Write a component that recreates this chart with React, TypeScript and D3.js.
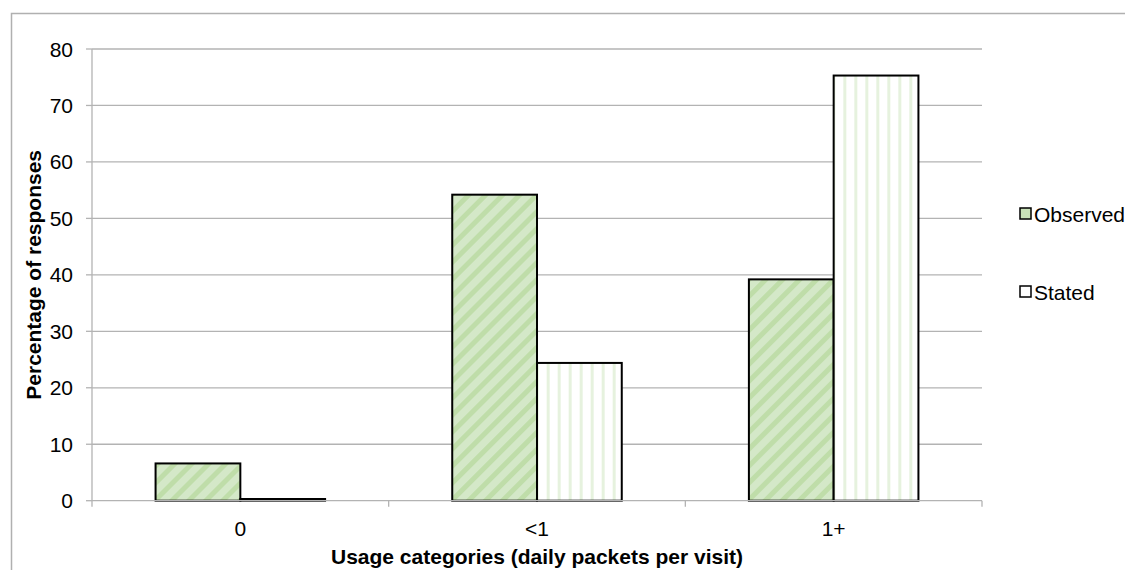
import React, { useEffect, useRef } from "react";
import * as d3 from "d3";

const categories = ["0", "<1", "1+"];
const seriesNames = ["Observed", "Stated"];
const observed = [6.6, 54.2, 39.2];
const stated = [0.3, 24.4, 75.3];
const yTicks = [0, 10, 20, 30, 40, 50, 60, 70, 80];

const W = 1125;
const H = 570;
const FONT = "Liberation Sans, Arial, sans-serif";
const FS = 21;

export default function App() {
  const ref = useRef<SVGSVGElement>(null);

  useEffect(() => {
    const svg = d3.select(ref.current);
    svg.selectAll("*").remove();

    const defs = svg.append("defs");
    const p1 = defs
      .append("pattern")
      .attr("id", "obsPat")
      .attr("patternUnits", "userSpaceOnUse")
      .attr("width", 12)
      .attr("height", 12)
      .attr("patternTransform", "rotate(45)");
    p1.append("rect").attr("width", 12).attr("height", 12).attr("fill", "#d4e8c8");
    p1.append("rect").attr("width", 5).attr("height", 12).attr("fill", "#bfdda9");

    const p2 = defs
      .append("pattern")
      .attr("id", "staPat")
      .attr("patternUnits", "userSpaceOnUse")
      .attr("width", 11)
      .attr("height", 11);
    p2.append("rect").attr("width", 11).attr("height", 11).attr("fill", "#ffffff");
    p2.append("rect").attr("x", 4).attr("width", 3).attr("height", 11).attr("fill", "#e6f2de");

    // outer chart border
    svg
      .append("rect")
      .attr("x", 11.5)
      .attr("y", 13.5)
      .attr("width", W + 20)
      .attr("height", H + 20)
      .attr("fill", "none")
      .attr("stroke", "#b0b0b0")
      .attr("stroke-width", 1.5);

    const left = 92;
    const right = 982;
    const top = 49;
    const bottom = 500.7;

    const x = d3.scaleBand<string>().domain(categories).range([left, right]).paddingInner(0).paddingOuter(0);
    const inner = d3.scaleBand<string>().domain(seriesNames).range([0, x.bandwidth()]).paddingOuter(0.75).paddingInner(0);
    const y = d3.scaleLinear().domain([0, 80]).range([bottom, top]);

    // gridlines
    svg
      .append("g")
      .selectAll("line")
      .data(yTicks.filter((t) => t > 0))
      .join("line")
      .attr("x1", left)
      .attr("x2", right)
      .attr("y1", (d) => y(d))
      .attr("y2", (d) => y(d))
      .attr("stroke", "#b3b3b3")
      .attr("stroke-width", 1.3);

    // y axis
    svg
      .append("line")
      .attr("x1", left)
      .attr("x2", left)
      .attr("y1", top)
      .attr("y2", bottom)
      .attr("stroke", "#b3b3b3")
      .attr("stroke-width", 1.3);
    svg
      .append("g")
      .selectAll("line")
      .data(yTicks)
      .join("line")
      .attr("x1", left - 6)
      .attr("x2", left)
      .attr("y1", (d) => y(d))
      .attr("y2", (d) => y(d))
      .attr("stroke", "#b3b3b3")
      .attr("stroke-width", 1.3);
    svg
      .append("g")
      .selectAll("text")
      .data(yTicks)
      .join("text")
      .attr("x", left - 19)
      .attr("y", (d) => y(d))
      .attr("dy", "0.36em")
      .attr("text-anchor", "end")
      .attr("font-family", FONT)
      .attr("font-size", FS)
      .attr("fill", "#000")
      .text((d) => String(d));

    // bars
    const data = categories.map((c, i) => ({ c, vals: [observed[i], stated[i]] }));
    const groups = svg
      .append("g")
      .selectAll("g")
      .data(data)
      .join("g")
      .attr("transform", (d) => `translate(${x(d.c)},0)`);
    groups
      .selectAll("rect")
      .data((d) => d.vals.map((v, j) => ({ v, s: seriesNames[j] })))
      .join("rect")
      .attr("x", (d) => inner(d.s)!)
      .attr("width", inner.bandwidth())
      .attr("y", (d) => y(d.v))
      .attr("height", (d) => bottom - y(d.v))
      .attr("fill", (d) => (d.s === "Observed" ? "url(#obsPat)" : "url(#staPat)"))
      .attr("stroke", "#000")
      .attr("stroke-width", 2);

    // x axis
    svg
      .append("line")
      .attr("x1", left)
      .attr("x2", right)
      .attr("y1", bottom)
      .attr("y2", bottom)
      .attr("stroke", "#b3b3b3")
      .attr("stroke-width", 1.3);
    const xTickPos = [left, ...categories.map((c) => x(c)! + x.bandwidth())];
    svg
      .append("g")
      .selectAll("line")
      .data(xTickPos)
      .join("line")
      .attr("x1", (d) => d)
      .attr("x2", (d) => d)
      .attr("y1", bottom)
      .attr("y2", bottom + 6)
      .attr("stroke", "#b3b3b3")
      .attr("stroke-width", 1.3);
    svg
      .append("g")
      .selectAll("text")
      .data(categories)
      .join("text")
      .attr("x", (d) => x(d)! + x.bandwidth() / 2)
      .attr("y", 536)
      .attr("text-anchor", "middle")
      .attr("font-family", FONT)
      .attr("font-size", FS)
      .attr("fill", "#000")
      .text((d) => d);

    // axis titles
    svg
      .append("text")
      .attr("x", (left + right) / 2)
      .attr("y", 564)
      .attr("text-anchor", "middle")
      .attr("font-family", FONT)
      .attr("font-size", FS)
      .attr("font-weight", "bold")
      .attr("fill", "#000")
      .text("Usage categories (daily packets per visit)");
    svg
      .append("text")
      .attr("transform", `translate(41,${(top + bottom) / 2}) rotate(-90)`)
      .attr("text-anchor", "middle")
      .attr("font-family", FONT)
      .attr("font-size", FS)
      .attr("font-weight", "bold")
      .attr("fill", "#000")
      .text("Percentage of responses");

    // legend
    const legY = [214, 292];
    const leg = svg
      .append("g")
      .selectAll("g")
      .data(seriesNames)
      .join("g")
      .attr("transform", (d, i) => `translate(1020,${legY[i]})`);
    leg
      .append("rect")
      .attr("x", 0)
      .attr("y", -6)
      .attr("width", 11)
      .attr("height", 11)
      .attr("fill", (d) => (d === "Observed" ? "#c9e2b8" : "#ffffff"))
      .attr("stroke", "#000")
      .attr("stroke-width", 1.5);
    leg
      .append("text")
      .attr("x", 14)
      .attr("y", 0)
      .attr("dy", "0.36em")
      .attr("font-family", FONT)
      .attr("font-size", FS)
      .attr("fill", "#000")
      .text((d) => d);
  }, []);

  return (
    <svg
      ref={ref}
      width={W}
      height={H}
      style={{ position: "absolute", left: 0, top: 0, background: "#fff", display: "block" }}
    />
  );
}
